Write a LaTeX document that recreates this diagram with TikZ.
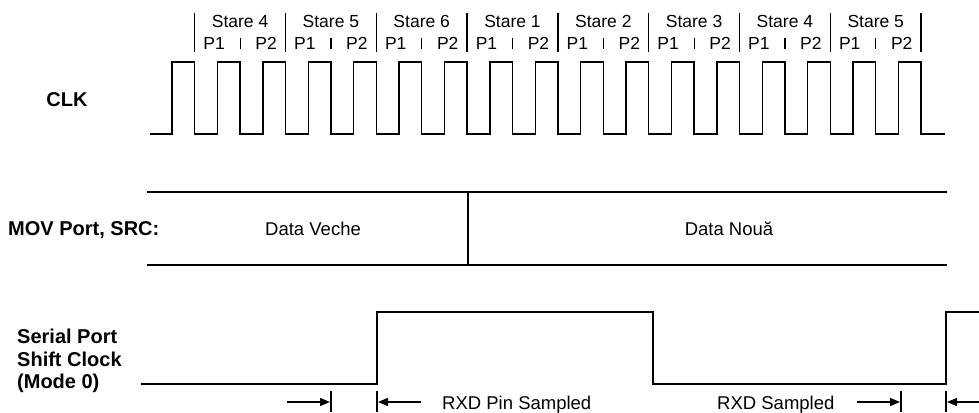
\documentclass[tikz,border=0pt]{standalone}
\usepackage{fontspec}
\setmainfont{Liberation Sans}
\usetikzlibrary{arrows.meta}
\tikzset{
  sig/.style={line width=1.4pt, line join=miter},
  sepbar/.style={line width=1.5pt},
  txt/.style={inner sep=0pt, anchor=base, font=\fontsize{17.5}{20}\selectfont},
  wtxt/.style={inner sep=0pt, anchor=base, font=\fontsize{18.5}{20}\selectfont},
  lbl/.style={inner sep=0pt, anchor=base west, font=\fontsize{20}{22.5}\selectfont\bfseries},
  dimarrow/.style={line width=1.4pt, -{Triangle[length=10pt,width=8pt]}},
}
\begin{document}
\begin{tikzpicture}[x=1pt,y=-1pt]
\useasboundingbox (0,0) rectangle (979,412);
% labels
\node[lbl, anchor=base] (clk) at (67,106) {CLK};
\node[lbl] (mov) at (8,235) {MOV Port, SRC:};
\node[lbl] (ser1) at (17,343) {Serial Port};
\node[lbl] (ser2) at (17,366) {Shift Clock};
\node[lbl] (ser3) at (17,388) {(Mode 0)};
% CLK waveform
\draw[sig] (150,134) foreach \k in {0,...,16} {
  -- ({172+45.4*\k},134) -- ({172+45.4*\k},62) -- ({194.7+45.4*\k},62) -- ({194.7+45.4*\k},134) } -- (945,134);
% state separators
\foreach \i in {0,...,8} {
  \draw[sepbar] ({194.7+90.8*\i},13) -- ({194.7+90.8*\i},52);
}
% state labels
\foreach \s [count=\i from 0] in {4,5,6,1,2,3,4,5} {
  \node[txt] (st\i) at ({240.1+90.8*\i},28) {Stare \s};
  \node[txt] (pa\i) at ({240.1+90.8*\i-26},50) {P1};
  \node[txt] (pb\i) at ({240.1+90.8*\i+26},50) {P2};
  \draw[line width=1.2pt] ({240.1+90.8*\i},38) -- ({240.1+90.8*\i},49);
}
% MOV bus
\draw[sig] (147,192) -- (947,192);
\draw[sig] (147,265) -- (947,265);
\draw[sig] (468,192) -- (468,265);
\node[wtxt] (old) at (313,235) {Data Veche};
\node[wtxt] (new) at (729,235) {Data Nouă};
% serial shift clock
\draw[sig] (141,384) -- (377,384) -- (377,312) -- (653,312) -- (653,384) -- (946,384) -- (946,312) -- (979,312);
% sampling markers
\coordinate (b1t) at (331,391); \coordinate (b1b) at (331,412);
\coordinate (b2t) at (377,391); \coordinate (b2b) at (377,412);
\coordinate (b3t) at (901,391); \coordinate (b3b) at (901,412);
\coordinate (b4t) at (946,391); \coordinate (b4b) at (946,412);
\draw[sepbar] (b1t) -- (b1b);
\draw[sepbar] (b2t) -- (b2b);
\draw[sepbar] (b3t) -- (b3b);
\draw[sepbar] (b4t) -- (b4b);
\coordinate (a1) at (287,402); \coordinate (e1) at (330,402);
\coordinate (a2) at (421,402); \coordinate (e2) at (378,402);
\coordinate (a3) at (857,402); \coordinate (e3) at (900,402);
\coordinate (a4) at (980,402); \coordinate (e4) at (947,402);
\draw[dimarrow] (a1) -- (e1);
\draw[dimarrow] (a2) -- (e2);
\draw[dimarrow] (a3) -- (e3);
\draw[dimarrow] (a4) -- (e4);
\node[wtxt, anchor=base west] (rxd1) at (442,409) {RXD Pin Sampled};
\node[wtxt, anchor=base west] (rxd2) at (717,409) {RXD Sampled};
\end{tikzpicture}
\end{document}
